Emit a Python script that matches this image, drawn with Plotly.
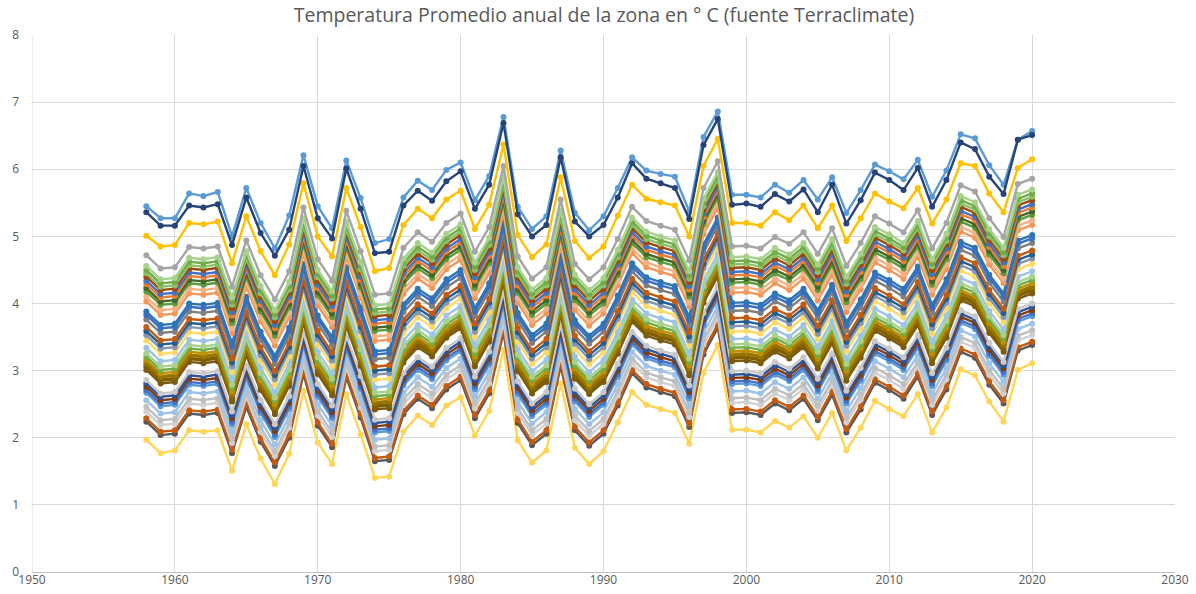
import plotly.graph_objects as go

years = list(range(1958, 2021))

# Series
light_blue_top = [5.45, 5.27, 5.27, 5.64, 5.60, 5.66, 5.00, 5.72, 5.20, 4.82, 5.31, 6.21, 5.45, 5.12, 6.13, 5.57,
                  4.90, 4.96, 5.58, 5.83, 5.69, 5.99, 6.10, 5.54, 5.90, 6.78, 5.44, 5.11, 5.30, 6.28, 5.35, 5.09,
                  5.30, 5.72, 6.18, 5.98, 5.93, 5.89, 5.37, 6.48, 6.86, 5.62, 5.62, 5.58, 5.77, 5.65, 5.84, 5.55,
                  5.88, 5.35, 5.69, 6.07, 5.97, 5.85, 6.14, 5.59, 5.98, 6.52, 6.46, 6.06, 5.77, 6.44, 6.57]
dark_blue_top = [5.36, 5.16, 5.16, 5.46, 5.43, 5.48, 4.87, 5.58, 5.05, 4.71, 5.10, 6.05, 5.27, 4.97, 6.01, 5.41,
                 4.75, 4.77, 5.46, 5.68, 5.53, 5.82, 5.97, 5.41, 5.77, 6.69, 5.33, 5.00, 5.17, 6.18, 5.22, 5.00,
                 5.17, 5.58, 6.09, 5.86, 5.79, 5.72, 5.26, 6.36, 6.75, 5.47, 5.49, 5.44, 5.63, 5.52, 5.70, 5.36,
                 5.77, 5.19, 5.54, 5.95, 5.84, 5.69, 6.02, 5.44, 5.84, 6.40, 6.30, 5.89, 5.63, 6.44, 6.51]
gold_top = [5.01, 4.85, 4.87, 5.20, 5.18, 5.22, 4.60, 5.30, 4.78, 4.42, 4.88, 5.79, 5.00, 4.70, 5.72, 5.14,
            4.48, 4.53, 5.17, 5.41, 5.27, 5.55, 5.68, 5.11, 5.47, 6.37, 5.02, 4.69, 4.88, 5.88, 4.93, 4.68,
            4.85, 5.31, 5.77, 5.56, 5.51, 5.46, 5.00, 6.05, 6.45, 5.20, 5.20, 5.16, 5.36, 5.24, 5.46, 5.12,
            5.46, 4.93, 5.27, 5.64, 5.52, 5.42, 5.72, 5.19, 5.55, 6.09, 6.05, 5.64, 5.36, 6.02, 6.15]
yellow_bottom = [1.97, 1.77, 1.81, 2.11, 2.09, 2.11, 1.51, 2.20, 1.69, 1.31, 1.76, 2.70, 1.93, 1.61, 2.65, 2.05,
                 1.40, 1.42, 2.09, 2.33, 2.19, 2.48, 2.60, 2.03, 2.40, 3.31, 1.96, 1.63, 1.81, 2.81, 1.85, 1.61,
                 1.80, 2.23, 2.68, 2.49, 2.43, 2.37, 1.91, 2.97, 3.38, 2.12, 2.12, 2.08, 2.25, 2.15, 2.32, 2.00,
                 2.37, 1.81, 2.15, 2.55, 2.43, 2.32, 2.65, 2.08, 2.45, 3.02, 2.93, 2.54, 2.24, 3.01, 3.11]

# Common year-to-year variation (relative to 1958)
anomalia = [0, -0.20, -0.18, 0.12, 0.10, 0.13, -0.47, 0.22, -0.30, -0.66,
            -0.24, 0.71, -0.06, -0.38, 0.66, 0.06, -0.59, -0.57, 0.11, 0.34,
            0.20, 0.48, 0.62, 0.05, 0.42, 1.33, -0.02, -0.35, -0.18, 0.83,
            -0.13, -0.36, -0.18, 0.24, 0.72, 0.51, 0.44, 0.38, -0.08, 1.00,
            1.40, 0.13, 0.14, 0.10, 0.27, 0.17, 0.34, 0.02, 0.40, -0.16,
            0.18, 0.58, 0.47, 0.34, 0.67, 0.10, 0.48, 1.04, 0.95, 0.55,
            0.27, 1.06, 1.14]

# 1958 values of the middle series (read at the left end)
inicio_1958 = [4.72, 4.56, 4.50, 4.45, 4.40, 4.34, 4.29, 4.23, 4.18, 4.10, 4.03,
               3.88, 3.83, 3.76, 3.65, 3.59, 3.53, 3.45, 3.34, 3.26, 3.21, 3.16,
               3.11, 3.06, 3.01, 2.86, 2.81, 2.76, 2.71, 2.67, 2.56, 2.46, 2.39,
               2.29, 2.24]
colores_medios = ["#A5A5A5", "#A9D18E", "#70AD47", "#8CC168", "#9E480E", "#4472C4", "#ED7D31",
                  "#43682B", "#5E9B3A", "#F4B183", "#F1975A", "#2E75B6", "#3A6FC4", "#7F7F7F",
                  "#C55A11", "#255E91", "#8497B0", "#FFD966", "#9DC3E6", "#A9D18E", "#70AD47",
                  "#BF9000", "#997300", "#7F6000", "#7A5A10", "#C9C9C9", "#2F5597", "#843C0C",
                  "#4472C4", "#5B9BD5", "#9DC3E6", "#BFBFBF", "#D0D0D0", "#C55A11", "#595959"]

fig = go.Figure()

def add(vals, color, width=2.4, msize=6):
    fig.add_trace(go.Scatter(x=years, y=vals, mode="lines+markers",
                             line=dict(color=color, width=width),
                             marker=dict(color=color, size=msize, symbol="circle"),
                             showlegend=False, hoverinfo="x+y"))

add(yellow_bottom, "#FFD557")
for s, c in reversed(list(zip(inicio_1958, colores_medios))):
    w = 3.6 if c in ("#997300", "#7F6000") else 2.4
    add([round(s + a, 2) for a in anomalia], c, width=w)
add(gold_top, "#FFC000")
add(light_blue_top, "#5B9BD5")
add(dark_blue_top, "#264478")

W, H = 1196, 594
axis_font = dict(family="Open Sans, Liberation Sans, sans-serif", size=12, color="#595959")
fig.update_layout(
    width=W, height=H,
    margin=dict(l=32, r=21, t=35, b=22, autoexpand=False),
    paper_bgcolor="white", plot_bgcolor="white",
    title=dict(text="Temperatura Promedio anual de la zona en ° C (fuente Terraclimate)",
               x=0.505, xanchor="center", y=1 - 15 / H, yanchor="middle",
               font=dict(family="Open Sans, Liberation Sans, sans-serif", size=19.5, color="#595959")),
    xaxis=dict(range=[1950, 2030], dtick=10, tick0=1950, showgrid=True, gridcolor="#D9D9D9",
               gridwidth=1, zeroline=False, showline=True, linecolor="#BFBFBF",
               tickfont=axis_font, ticks="", automargin=False, ticklabelstandoff=-3),
    yaxis=dict(range=[0, 8], dtick=1, showgrid=True, gridcolor="#D9D9D9", gridwidth=1,
               zeroline=False, showline=False, tickfont=axis_font, ticks="", automargin=False,
               ticklabelstandoff=12),
)
fig.add_vline(x=1950, line_color="#D9D9D9", line_width=1)

fig.write_html("out.html", config={"displayModeBar": False},
               post_script="document.body.style.margin='0px';document.body.style.overflow='hidden';")
